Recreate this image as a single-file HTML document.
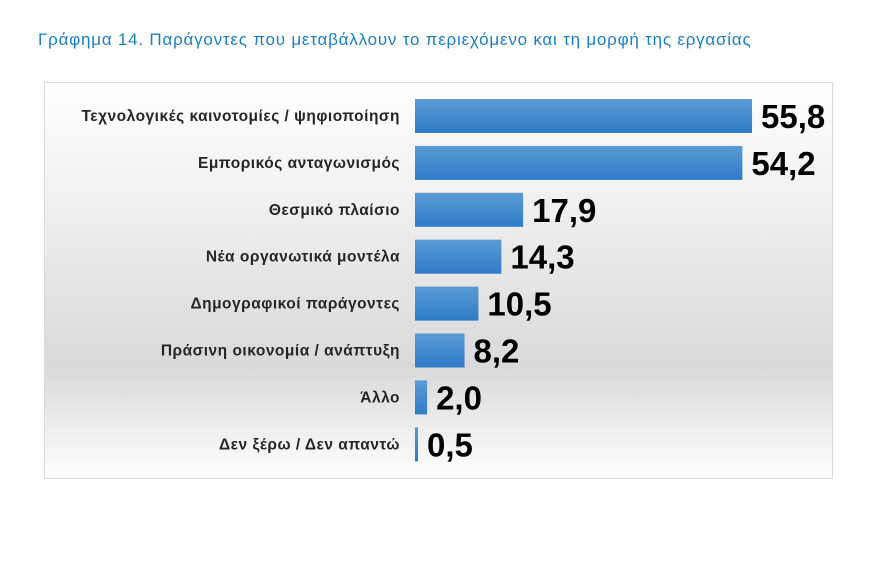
<!DOCTYPE html>
<html><head><meta charset="utf-8">
<style>
body{margin:0;background:#fff;width:893px;height:570px;overflow:hidden;font-family:"Liberation Sans",sans-serif;}
#title{position:absolute;left:38px;top:30px;font-size:17px;letter-spacing:0.78px;color:#1a7fc1;}
</style></head><body>
<div id="title">Γράφημα 14. Παράγοντες που μεταβάλλουν το περιεχόμενο και τη μορφή της εργασίας</div>
<svg id="chart" width="893" height="570" style="position:absolute;left:0;top:0">
<defs>
<linearGradient id="bg" x1="0" y1="0" x2="0" y2="1">
<stop offset="0" stop-color="#ffffff"/><stop offset="0.3" stop-color="#f0f0f0"/><stop offset="0.72" stop-color="#d9d9d9"/><stop offset="1" stop-color="#ffffff"/>
</linearGradient>
<linearGradient id="bar" x1="0" y1="0" x2="0" y2="1">
<stop offset="0" stop-color="#5b9bd5"/><stop offset="1" stop-color="#2e7bc8"/>
</linearGradient>
</defs>
<rect x="44.5" y="82.5" width="788" height="396" fill="url(#bg)" stroke="#d9d9d9"/>
<g id="bars"></g>
</svg>
<script>
const categories=["Τεχνολογικές καινοτομίες / ψηφιοποίηση","Εμπορικός ανταγωνισμός","Θεσμικό πλαίσιο","Νέα οργανωτικά μοντέλα","Δημογραφικοί παράγοντες","Πράσινη οικονομία / ανάπτυξη","Άλλο","Δεν ξέρω / Δεν απαντώ"];
const values=[55.8,54.2,17.9,14.3,10.5,8.2,2.0,0.5];
const labels=["55,8","54,2","17,9","14,3","10,5","8,2","2,0","0,5"];
const x0=415, scale=6.04;
const xs=v=>x0+v*scale;
const ys=i=>116+i*46.9;
const g=document.getElementById('bars');
const NS="http://www.w3.org/2000/svg";
values.forEach((v,i)=>{
  const cy=ys(i);
  const r=document.createElementNS(NS,'rect');
  
  
  r.setAttribute('x',x0);r.setAttribute('y',cy-17);
  r.setAttribute('width',Math.max(xs(v)-x0,2.5));r.setAttribute('height',34);
  r.setAttribute('fill','url(#bar)');
  g.appendChild(r);
  const t=document.createElementNS(NS,'text');
  
  
  t.setAttribute('x',400);t.setAttribute('y',cy+5);
  t.setAttribute('text-anchor','end');t.setAttribute('font-size','15.5');t.setAttribute('font-weight','bold');t.setAttribute('fill','#262626');
  t.setAttribute('letter-spacing','0.5');
  t.setAttribute('font-family','"Liberation Sans",sans-serif');
  t.textContent=categories[i];
  g.appendChild(t);
  const vl=document.createElementNS(NS,'text');
  
  
  vl.setAttribute('x',Math.max(xs(v),x0+2.5)+9);vl.setAttribute('y',cy+12);
  vl.setAttribute('font-size','33');vl.setAttribute('font-weight','bold');vl.setAttribute('fill','#000');
  vl.setAttribute('font-family','"Liberation Sans",sans-serif');
  vl.textContent=labels[i];
  g.appendChild(vl);
});
</script>
</body></html>
